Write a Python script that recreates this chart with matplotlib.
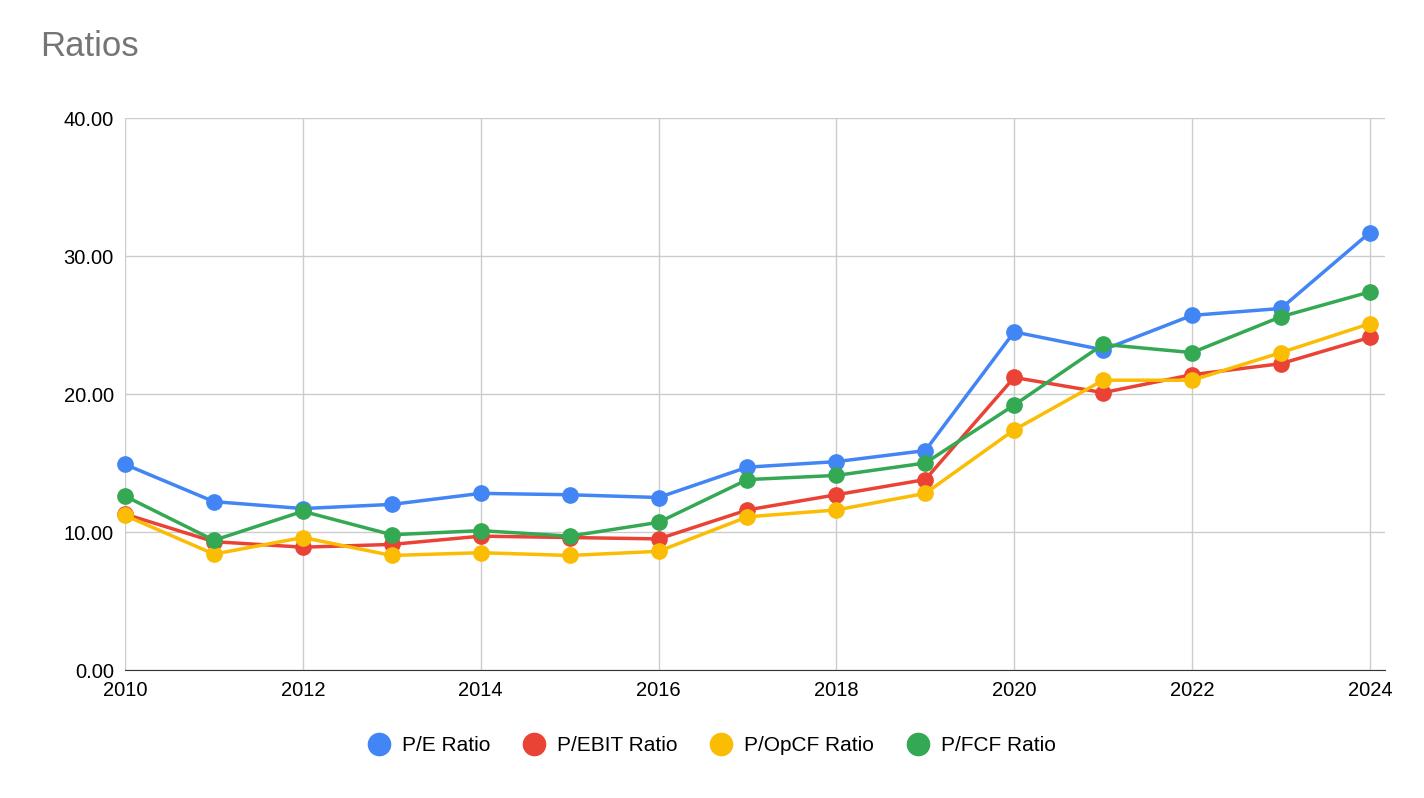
import numpy as np
import matplotlib.pyplot as plt
from matplotlib.lines import Line2D

years = list(range(2010, 2025))
pe = [14.9, 12.2, 11.7, 12.0, 12.8, 12.7, 12.5, 14.7, 15.1, 15.9, 24.5, 23.2, 25.7, 26.2, 31.7]
ebit = [11.3, 9.3, 8.9, 9.1, 9.7, 9.6, 9.5, 11.6, 12.7, 13.8, 21.2, 20.1, 21.4, 22.2, 24.1]
opcf = [11.2, 8.4, 9.6, 8.3, 8.5, 8.3, 8.6, 11.1, 11.6, 12.8, 17.4, 21.0, 21.0, 23.0, 25.1]
fcf = [12.6, 9.4, 11.5, 9.8, 10.1, 9.7, 10.7, 13.8, 14.1, 15.0, 19.2, 23.6, 23.0, 25.6, 27.4]

plt.rcParams['font.family'] = ['Liberation Sans', 'DejaVu Sans']
fig = plt.figure(figsize=(14.24, 7.98), dpi=100)
ax = fig.add_axes([0.0878, 0.1604, 0.8848, 0.6917])

series = [('P/E Ratio', pe, '#4285F4'), ('P/EBIT Ratio', ebit, '#EA4335'),
          ('P/OpCF Ratio', opcf, '#FBBC04'), ('P/FCF Ratio', fcf, '#34A853')]
handles = []
for name, vals, c in series:
    ax.plot(years, vals, color=c, lw=2.5, marker='o', ms=11, clip_on=False, zorder=3)
    handles.append(Line2D([], [], ls='none', marker='o', ms=16, color=c, label=name))

ax.set_xlim(2010, 2024.17)
ax.set_ylim(0, 40)
ax.set_xticks(range(2010, 2025, 2))
ax.set_yticks([0, 10, 20, 30, 40])
ax.set_yticklabels([f'{v:.2f}' for v in [0, 10, 20, 30, 40]])
ax.grid(color='#cccccc', lw=1)
ax.set_axisbelow(True)
for s in ['top', 'right', 'left']:
    ax.spines[s].set_visible(False)
ax.spines['bottom'].set_color('#333333')
ax.tick_params(length=0, labelsize=14.5, pad=8)

fig.text(0.028, 0.93, 'Ratios', fontsize=25, color='#757575')
fig.legend(handles=handles, loc='center', bbox_to_anchor=(0.5, 0.066), ncol=4,
           frameon=False, fontsize=15, handlelength=1, handletextpad=0.6,
           columnspacing=1.6)
fig.savefig('out.png')
